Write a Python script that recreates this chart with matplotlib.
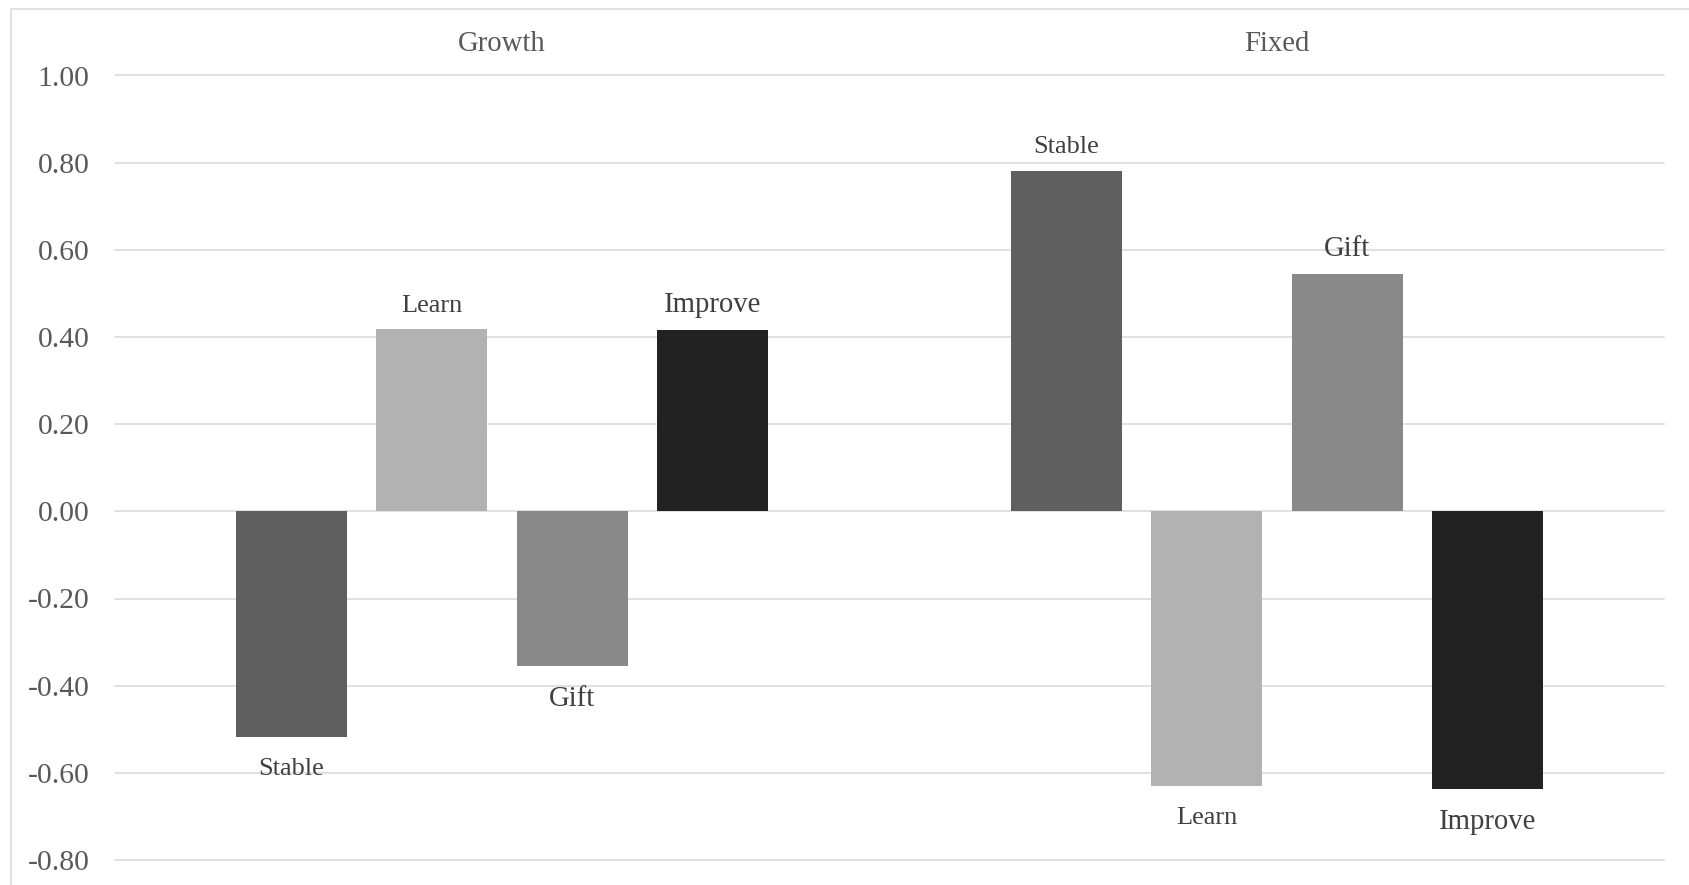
import matplotlib
matplotlib.use("Agg")
import matplotlib.pyplot as plt
import matplotlib.transforms as mtransforms
from matplotlib.lines import Line2D
import numpy as np

# ---- data ----
categories = ["Growth", "Fixed"]
series_names = ["Stable", "Learn", "Gift", "Improve"]
stable = [-0.518, 0.781]
learn = [0.418, -0.630]
gift = [-0.356, 0.545]
improve = [0.417, -0.636]
y_ticks = [-0.8, -0.6, -0.4, -0.2, 0.0, 0.2, 0.4, 0.6, 0.8, 1.0]
tick_labels = ["-0.80", "-0.60", "-0.40", "-0.20", "0.00", "0.20", "0.40", "0.60", "0.80", "1.00"]

values = [stable, learn, gift, improve]
colors = ["#5f5f5f", "#b2b2b2", "#898989", "#222222"]
label_sizes = [18.9, 18.9, 20.7, 20.7]

W, H = 1690, 885
DPI = 100
plt.rcParams["font.family"] = ["Liberation Serif", "DejaVu Serif"]

fig = plt.figure(figsize=(W / DPI, H / DPI), dpi=DPI)
fig.patch.set_facecolor("white")

left_px, right_px = 114.7, 1664.3
top_px, bottom_px = 75.5, 860.0
ax = fig.add_axes([left_px / W, (H - bottom_px) / H,
                   (right_px - left_px) / W, (bottom_px - top_px) / H])

x = np.arange(len(categories))
bar_w = 0.1433
step = 0.1812
offsets = [-1.5 * step, -0.5 * step, 0.5 * step, 1.5 * step]

for i, (name, vals) in enumerate(zip(series_names, values)):
    xs = x + offsets[i]
    ax.bar(xs, vals, width=bar_w, color=colors[i], zorder=3, linewidth=0)
    for xx, v in zip(xs, vals):
        small = label_sizes[i] < 20
        if v >= 0:
            off = 12.6
        else:
            off = -(27.1 if small else 28.8)
        ax.annotate(name, xy=(xx, v), xytext=(0, off), textcoords="offset points",
                    ha="center", va="baseline", fontsize=label_sizes[i],
                    color="#404040", zorder=4)

ax.set_xlim(-0.5, len(categories) - 0.5)
ax.set_ylim(-0.8, 1.0)
ax.set_yticks(y_ticks)
ax.set_yticklabels(tick_labels)
ax.set_xticks([])
ax.tick_params(axis="y", length=0, pad=18.3, labelsize=21.3, labelcolor="#595959")
for s in ax.spines.values():
    s.set_visible(False)
ax.yaxis.grid(True, color="#d9d9d9", linewidth=1.1, zorder=0)
ax.set_axisbelow(True)
for gl in ax.get_ygridlines():
    gl.set_clip_on(False)

# category labels at top
trans = mtransforms.blended_transform_factory(ax.transData, fig.transFigure)
for xi, cat in zip(x, categories):
    ax.text(xi, (H - 51) / H, cat, transform=trans, ha="center", va="baseline",
            fontsize=20.7, color="#595959")

# chart border (left and top)
fig.add_artist(Line2D([11 / W, 11 / W, 1.0], [0.0, (H - 9) / H, (H - 9) / H],
                      transform=fig.transFigure, color="#d9d9d9", linewidth=1.1))

fig.savefig("out.png", dpi=DPI, facecolor="white")
